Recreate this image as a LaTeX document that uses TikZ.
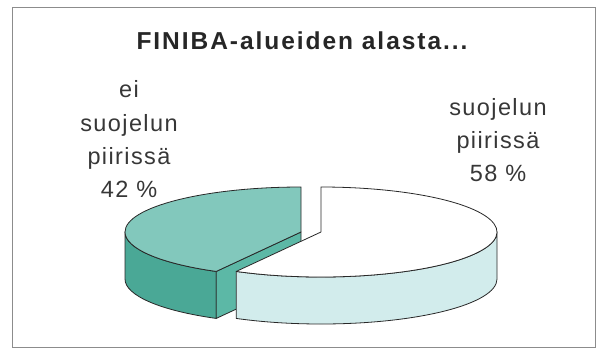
\documentclass[tikz,border=0pt]{standalone}
\usepackage{fontspec}
\setmainfont{Liberation Sans}
\newfontfamily\titlefont[LetterSpace=8]{Liberation Sans}
\newfontfamily\labelfont[LetterSpace=6]{Liberation Sans}
\usetikzlibrary{calc}
\definecolor{tealtop}{RGB}{130,200,188}
\definecolor{tealside}{RGB}{74,168,150}
\definecolor{tealcut}{RGB}{92,184,166}
\definecolor{whiteside}{RGB}{210,236,236}
\definecolor{outline}{RGB}{40,40,40}
\definecolor{frame}{RGB}{140,140,140}
\definecolor{txt}{RGB}{55,55,55}
\tikzset{
  face/.style={draw=outline, line width=0.8pt, line join=round},
  lbl/.style={anchor=base, inner sep=0pt, text=txt, font=\labelfont\fontsize{23.5}{28}\selectfont},
  ttl/.style={anchor=base, inner sep=0pt, text=black!85, font=\titlefont\bfseries\fontsize{24.5}{29}\selectfont},
  ell/.style={x radius=176pt, y radius=45pt}
}
\begin{document}
\begin{tikzpicture}[x=1pt,y=-1pt]
\useasboundingbox (0,0) rectangle (597,349);
\draw[frame, line width=0.9pt] (12,7) rectangle (595.5,347.5);
\node[ttl] (title) at (302,49) {FINIBA-alueiden alasta...};
% coordinates
\coordinate (ct) at (301,232);
\coordinate (cw) at (321,232);
\coordinate (tb) at (301,187);
\coordinate (tl) at (125,232);
\coordinate (tf) at ($(ct)+(241.2:176pt and 45pt)$);
\coordinate (wf) at ($(cw)+(241.2:176pt and 45pt)$);
% teal slice (42 %)
\path[face, fill=tealside] (tl) arc[start angle=180, end angle=241.2, ell] -- ++(0,47) arc[start angle=241.2, end angle=180, ell] -- cycle;
\path[face, fill=tealcut] (ct) -- (tf) -- ($(tf)+(0,47)$) -- ($(ct)+(0,47)$) -- cycle;
\path[face, fill=tealtop] (ct) -- (tb) arc[start angle=90, end angle=241.2, ell] -- cycle;
% white slice (58 %)
\path[face, fill=whiteside] (wf) arc[start angle=241.2, end angle=360, ell] -- ++(0,47) arc[start angle=360, end angle=241.2, ell] -- cycle;
\path[face, fill=white] (cw) -- (wf) arc[start angle=241.2, end angle=450, ell] -- cycle;
% labels
\node[lbl] (l1) at (129,97) {ei};
\node[lbl] (l2) at (129,131) {suojelun};
\node[lbl] (l3) at (129,164) {piirissä};
\node[lbl] (l4) at (129,197) {42 \%};
\node[lbl] (r1) at (498,115) {suojelun};
\node[lbl] (r2) at (498,148) {piirissä};
\node[lbl] (r3) at (498,181) {58 \%};
\end{tikzpicture}
\end{document}
